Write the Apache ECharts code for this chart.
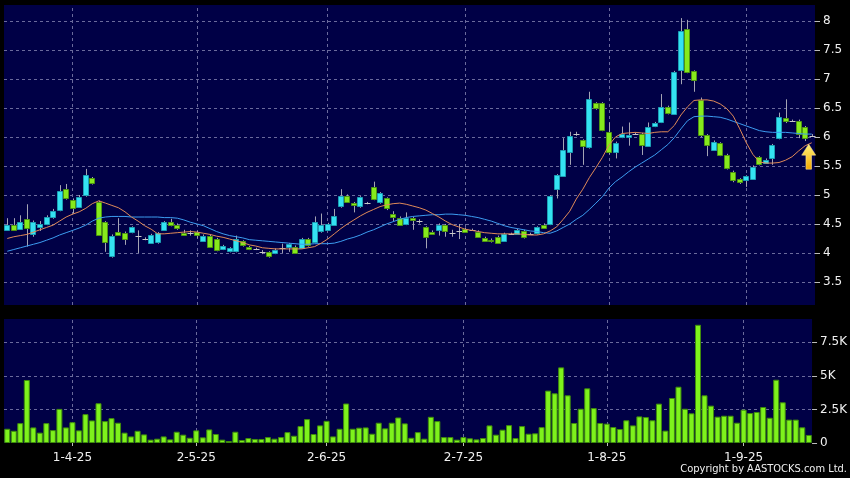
<!DOCTYPE html>
<html><head><meta charset="utf-8">
<script src="https://cdn.jsdelivr.net/npm/echarts@6/dist/echarts.min.js"></script>
<style>html,body{margin:0;padding:0;background:#000;}#c{width:850px;height:478px;}</style>
</head><body><div id="c"></div>
<script>
const dates = ['18-3-25','19-3-25','20-3-25','21-3-25','24-3-25','25-3-25','26-3-25','27-3-25','28-3-25','31-3-25',
'1-4-25','2-4-25','3-4-25','7-4-25','8-4-25','9-4-25','10-4-25','11-4-25','14-4-25','15-4-25','16-4-25','17-4-25','22-4-25','23-4-25','24-4-25','25-4-25','28-4-25','29-4-25','30-4-25',
'2-5-25','6-5-25','7-5-25','8-5-25','9-5-25','12-5-25','13-5-25','14-5-25','15-5-25','16-5-25','19-5-25','20-5-25','21-5-25','22-5-25','23-5-25','26-5-25','27-5-25','28-5-25','29-5-25','30-5-25',
'2-6-25','3-6-25','4-6-25','5-6-25','6-6-25','9-6-25','10-6-25','11-6-25','12-6-25','13-6-25','16-6-25','17-6-25','18-6-25','19-6-25','20-6-25','23-6-25','24-6-25','25-6-25','26-6-25','27-6-25','30-6-25',
'2-7-25','3-7-25','4-7-25','7-7-25','8-7-25','9-7-25','10-7-25','11-7-25','14-7-25','15-7-25','16-7-25','17-7-25','18-7-25','21-7-25','22-7-25','23-7-25','24-7-25','25-7-25','28-7-25','29-7-25','30-7-25','31-7-25',
'1-8-25','4-8-25','5-8-25','6-8-25','7-8-25','8-8-25','11-8-25','12-8-25','13-8-25','14-8-25','15-8-25','18-8-25','19-8-25','20-8-25','21-8-25','22-8-25','25-8-25','26-8-25','27-8-25','28-8-25','29-8-25',
'1-9-25','2-9-25','3-9-25','4-9-25','5-9-25','8-9-25','9-9-25','10-9-25','11-9-25','12-9-25','15-9-25'];

const opens = [4.41,4.49,4.41,4.58,4.34,4.45,4.50,4.61,4.74,5.10,4.91,4.80,4.99,5.29,4.885,4.54,3.95,4.37,4.35,4.36,4.30,4.24,4.18,4.18,4.39,4.53,4.49,4.34,4.35,4.36,4.22,
4.30,4.24,4.07,4.03,4.03,4.20,4.10,4.07,4.01,4.01,4.00,4.08,4.09,4.11,4.09,4.24,4.20,4.37,4.40,4.49,4.80,4.99,4.86,4.80,4.86,5.14,4.87,4.94,4.68,4.61,
4.50,4.60,4.56,4.44,4.37,4.41,4.48,4.35,4.38,4.42,4.40,4.37,4.26,4.23,4.28,4.21,4.33,4.33,4.38,4.33,4.34,4.49,4.50,5.10,5.34,5.74,6.05,5.94,5.82,6.58,6.58,
6.09,5.75,6.00,6.00,6.06,6.05,5.86,6.19,6.26,6.52,6.40,7.15,7.87,7.13,6.63,6.03,5.78,5.89,5.69,5.40,5.27,5.25,5.29,5.65,5.56,5.63,5.98,6.32,6.28,6.28,6.17,6.02];
const closes = [4.49,4.41,4.53,4.43,4.54,4.50,4.62,4.72,5.07,4.94,4.78,4.97,5.34,5.20,4.32,4.195,4.30,4.32,4.25,4.44,4.30,4.24,4.31,4.34,4.53,4.47,4.44,4.31,4.35,4.31,4.30,
4.11,4.05,4.12,4.08,4.24,4.13,4.07,4.07,4.01,3.94,4.06,4.08,4.15,4.01,4.24,4.13,4.54,4.48,4.50,4.64,4.98,4.89,4.82,4.96,4.86,4.93,5.03,4.76,4.63,4.49,
4.60,4.56,4.56,4.27,4.33,4.49,4.37,4.35,4.38,4.37,4.40,4.28,4.21,4.21,4.18,4.33,4.33,4.40,4.27,4.33,4.44,4.44,4.98,5.34,5.78,6.01,6.05,5.84,6.65,6.49,6.12,
5.75,5.90,6.05,6.03,6.06,5.86,6.18,6.24,6.52,6.41,7.12,7.82,7.13,6.97,6.02,5.86,5.92,5.69,5.46,5.27,5.21,5.32,5.49,5.53,5.61,5.86,6.34,6.26,6.28,6.06,5.98,6.02];
const highs = [4.60,4.60,4.65,4.84,4.56,4.55,4.65,4.76,5.17,5.19,4.94,5.00,5.45,5.31,4.90,4.55,4.32,4.60,4.37,4.46,4.39,4.27,4.33,4.36,4.55,4.59,4.51,4.40,4.39,4.38,4.32,
4.32,4.26,4.14,4.10,4.30,4.22,4.12,4.09,4.05,4.03,4.08,4.16,4.17,4.13,4.26,4.26,4.63,4.68,4.52,4.76,5.10,5.01,4.88,4.98,4.88,5.23,5.05,4.96,4.72,4.63,
4.70,4.62,4.58,4.46,4.39,4.51,4.50,4.40,4.50,4.44,4.42,4.39,4.28,4.25,4.30,4.35,4.35,4.42,4.40,4.35,4.46,4.51,5.00,5.36,5.98,6.09,6.09,5.96,6.78,6.60,6.60,
6.25,5.92,6.18,6.25,6.08,6.07,6.25,6.26,6.74,6.54,7.14,8.05,8.02,7.15,6.68,6.05,5.94,5.91,5.71,5.42,5.29,5.34,5.51,5.67,5.63,5.88,6.42,6.65,6.30,6.30,6.19,6.05];
const lows = [4.39,4.38,4.40,4.11,4.28,4.38,4.48,4.59,4.72,4.92,4.68,4.78,4.97,5.18,4.30,4.02,3.92,4.30,4.14,4.34,4.00,4.22,4.17,4.16,4.38,4.46,4.40,4.30,4.30,4.25,4.20,
4.09,4.03,4.05,4.01,4.01,4.11,4.05,4.05,3.98,3.92,3.98,4.00,4.02,3.99,4.07,4.11,4.18,4.35,4.38,4.47,4.78,4.87,4.70,4.78,4.84,4.91,4.85,4.74,4.55,4.47,
4.48,4.40,4.51,4.08,4.31,4.30,4.28,4.28,4.24,4.35,4.38,4.26,4.19,4.18,4.16,4.19,4.31,4.31,4.25,4.31,4.32,4.42,4.48,4.94,5.32,5.52,6.02,5.52,5.80,6.47,6.10,
5.70,5.63,5.98,5.85,6.04,5.69,5.84,6.17,6.24,6.39,6.38,6.91,7.10,6.78,6.00,5.67,5.76,5.67,5.44,5.22,5.19,5.14,5.27,5.51,5.54,5.52,5.96,6.24,6.26,5.98,5.93,6.00];

const ma10 = [4.25,4.28,4.30,4.32,4.36,4.40,4.44,4.48,4.55,4.62,4.67,4.71,4.77,4.85,4.90,4.86,4.82,4.78,4.71,4.62,4.55,4.47,4.41,4.33,4.33,4.34,4.35,4.36,4.37,4.36,4.34,
4.32,4.29,4.27,4.24,4.21,4.18,4.14,4.12,4.09,4.08,4.07,4.07,4.07,4.07,4.07,4.09,4.11,4.17,4.24,4.33,4.42,4.50,4.57,4.64,4.70,4.75,4.80,4.83,4.85,4.86,
4.84,4.81,4.78,4.74,4.68,4.62,4.55,4.49,4.45,4.41,4.39,4.37,4.35,4.34,4.33,4.33,4.33,4.33,4.32,4.31,4.31,4.33,4.38,4.45,4.58,4.72,4.93,5.10,5.30,5.47,5.65,
5.86,6.00,6.06,6.07,6.08,6.07,6.06,6.08,6.09,6.09,6.20,6.38,6.52,6.63,6.64,6.64,6.62,6.57,6.49,6.36,6.14,5.90,5.70,5.57,5.55,5.55,5.56,5.60,5.66,5.76,5.85,5.90];
const ma20 = [4.03,4.06,4.09,4.12,4.15,4.18,4.22,4.26,4.31,4.35,4.39,4.43,4.48,4.55,4.60,4.62,4.63,4.63,4.63,4.62,4.62,4.62,4.62,4.62,4.61,4.61,4.60,4.57,4.53,4.50,4.47,
4.42,4.37,4.33,4.30,4.28,4.26,4.23,4.22,4.21,4.20,4.19,4.18,4.17,4.16,4.15,4.15,4.16,4.16,4.16,4.17,4.20,4.24,4.27,4.31,4.36,4.40,4.45,4.50,4.54,4.58,
4.61,4.63,4.64,4.65,4.66,4.66,4.67,4.67,4.66,4.65,4.63,4.61,4.58,4.55,4.51,4.47,4.44,4.42,4.40,4.38,4.37,4.35,4.34,4.38,4.44,4.50,4.58,4.65,4.75,4.86,4.97,
5.12,5.23,5.31,5.40,5.48,5.55,5.62,5.69,5.78,5.87,5.99,6.14,6.28,6.35,6.36,6.36,6.35,6.34,6.31,6.27,6.23,6.19,6.15,6.11,6.09,6.08,6.08,6.08,6.07,6.06,6.05,6.05];

const volumesK = [1.06,0.91,1.48,4.69,1.16,0.77,1.48,0.96,2.54,1.16,1.55,0.94,2.15,1.68,2.96,1.63,1.85,1.51,0.77,0.49,0.91,0.64,0.25,0.32,0.49,0.27,0.84,0.62,0.39,0.94,0.42,1.01,0.67,0.25,0.15,0.84,0.22,0.37,0.30,0.30,0.44,0.32,0.44,0.81,
0.54,1.26,1.78,0.67,1.31,1.65,0.49,1.06,2.94,1.06,1.14,1.16,0.69,1.51,1.09,1.51,1.90,1.46,0.39,0.81,0.32,1.95,1.63,0.44,
0.44,0.25,0.44,0.35,0.27,0.37,1.31,0.62,0.99,1.33,0.37,1.26,0.69,0.72,1.18,3.90,3.70,5.63,
3.55,1.49,2.55,4.07,2.60,1.49,1.44,1.19,1.04,1.69,1.31,1.98,1.93,1.69,2.93,0.92,3.35,4.19,2.55,2.21,8.80,3.55,2.78,1.96,2.03,2.03,1.51,2.48,2.23,2.31,2.68,1.88,4.71,3.03,1.74,1.74,1.17,0.60];

const tickLabels = ['1-4-25','2-5-25','2-6-25','2-7-25','1-8-25','1-9-25'];
const priceTicks = [3.5,4,4.5,5,5.5,6,6.5,7,7.5,8];
const volTicks = [0,2.5,5,7.5];

const FONT = 'DejaVu Sans';
const GRID_COLOR = '#6a6a9c';
const PANEL = '#000046';
const isTick = (i, v) => tickLabels.indexOf(v) >= 0;

const candleData = dates.map((d, i) => [i, opens[i], closes[i], lows[i], highs[i]]);

const gridLineStyle = {color: GRID_COLOR, type: [3, 3], width: 1};

function renderCandle(params, api) {
  const i = api.value(0), o = api.value(1), c = api.value(2), l = api.value(3), h = api.value(4);
  const pO = api.coord([i, o]), pC = api.coord([i, c]), pL = api.coord([i, l]), pH = api.coord([i, h]);
  const cx = Math.round(pO[0]) + 0.5;
  const children = [{type: 'line', shape: {x1: cx, y1: pH[1], x2: cx, y2: pL[1]}, style: {stroke: '#a4a4b4', lineWidth: 1}}];
  if (o === c) {
    children.push({type: 'line', shape: {x1: cx - 3, y1: Math.round(pO[1]) + 0.5, x2: cx + 3, y2: Math.round(pO[1]) + 0.5}, style: {stroke: '#c8c8c8', lineWidth: 1}});
  } else {
    const up = c > o;
    const top = Math.min(pO[1], pC[1]), bot = Math.max(pO[1], pC[1]);
    children.push({type: 'rect', shape: {x: cx - 3, y: Math.round(top) + 0.5, width: 5, height: Math.max(1, Math.round(bot - top))},
      style: {fill: up ? '#34e2f2' : '#86ea1c', stroke: up ? '#1c9fb4' : '#4f9612', lineWidth: 1}});
  }
  return {type: 'group', children};
}

const chart = echarts.init(document.getElementById('c'));
chart.setOption({
  animation: false,
  backgroundColor: '#000000',
  grid: [
    {left: 4, right: 35, top: 5, height: 300, show: true, backgroundColor: PANEL, borderWidth: 0},
    {left: 4, right: 35, top: 319, height: 124, show: true, backgroundColor: PANEL, borderWidth: 0}
  ],
  xAxis: [
    {type: 'category', gridIndex: 0, data: dates, boundaryGap: true, axisLine: {show: false}, axisTick: {show: false}, axisLabel: {show: false}, splitLine: {show: false}},
    {type: 'category', gridIndex: 1, data: dates, boundaryGap: true, offset: 3, axisLine: {show: false},
     axisTick: {show: true, alignWithLabel: true, interval: isTick, length: 3, lineStyle: {color: '#bbbbbb'}},
     axisLabel: {interval: isTick, color: '#f0f0f0', fontSize: 12, fontFamily: FONT, margin: 6},
     splitLine: {show: false}}
  ],
  yAxis: [
    {type: 'value', gridIndex: 0, position: 'right', min: 3.103, max: 8.276, scale: true,
     axisLine: {show: false}, splitLine: {show: false},
     axisTick: {show: true, length: 5, customValues: priceTicks, lineStyle: {color: '#bbbbbb'}},
     axisLabel: {customValues: priceTicks, color: '#f0f0f0', fontSize: 12, fontFamily: FONT, margin: 8}},
    {type: 'value', gridIndex: 1, position: 'right', min: 0, max: 9.23,
     axisLine: {show: false}, splitLine: {show: false},
     axisTick: {show: true, length: 5, customValues: volTicks, lineStyle: {color: '#bbbbbb'}},
     axisLabel: {customValues: volTicks, color: '#f0f0f0', fontSize: 12, fontFamily: FONT, margin: 8,
       formatter: v => v === 0 ? '0' : v + 'K'}}
  ],
  series: [
    {type: 'line', name: 'grid', xAxisIndex: 0, yAxisIndex: 0, data: [], silent: true,
     markLine: {silent: true, z: 1, symbol: ['none', 'none'], label: {show: false}, lineStyle: gridLineStyle, animation: false,
       data: tickLabels.map(d => ({xAxis: d})).concat(priceTicks.map(v => ({yAxis: v})))}},
    {type: 'custom', name: 'candles', xAxisIndex: 0, yAxisIndex: 0, data: candleData, renderItem: renderCandle,
     encode: {x: 0, y: [1, 2, 3, 4]}, z: 3, silent: true},
    {type: 'line', name: 'MA20', xAxisIndex: 0, yAxisIndex: 0, data: ma20, symbol: 'none', z: 4, silent: true,
     lineStyle: {color: '#3c9cf0', width: 1}},
    {type: 'line', name: 'MA10', xAxisIndex: 0, yAxisIndex: 0, data: ma10, symbol: 'none', z: 5, silent: true,
     lineStyle: {color: '#e08a58', width: 1},
     markPoint: {silent: true, z: 6, animation: false,
       data: [{coord: [dates[dates.length - 1], 5.66], symbol: 'path://M5,0 L10,7 L7,7 L7,16 L3,16 L3,7 L0,7 Z', symbolSize: [14, 25], symbolOffset: [-3, 0],
         label: {show: false},
         itemStyle: {color: new echarts.graphic.LinearGradient(0, 0, 0, 1, [{offset: 0, color: '#fff27a'}, {offset: 1, color: '#f5a800'}]), borderColor: '#ffe9a0', borderWidth: 0.5}}]}},
    {type: 'bar', name: 'Volume', xAxisIndex: 1, yAxisIndex: 1, data: volumesK, barWidth: 6, z: 3, silent: true,
     itemStyle: {color: '#7ef21c', borderColor: '#3f8c0c', borderWidth: 1},
     markLine: {silent: true, z: 1, symbol: ['none', 'none'], label: {show: false}, lineStyle: gridLineStyle, animation: false,
       data: tickLabels.map(d => ({xAxis: d})).concat(volTicks.filter(v => v > 0).map(v => ({yAxis: v})))}}
  ],
  graphic: [
    {type: 'text', right: 3, top: 464, style: {text: 'Copyright by AASTOCKS.com Ltd.', fill: '#f0f0f0', font: '11px "DejaVu Sans Condensed", "DejaVu Sans"'}}
  ]
});
</script>
</body></html>
